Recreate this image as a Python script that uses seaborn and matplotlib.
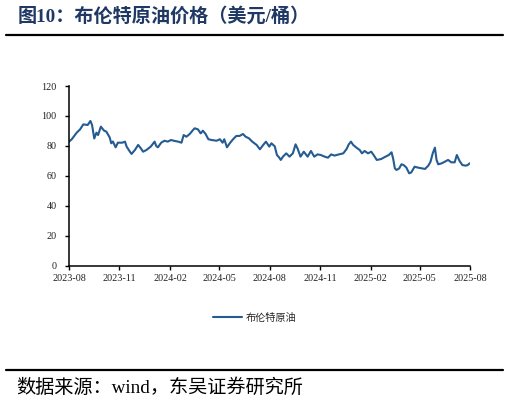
import pandas as pd
import seaborn as sns
import matplotlib.pyplot as plt
import matplotlib.dates as mdates

sns.set_style("ticks")
plt.rcParams['font.family'] = ['Liberation Serif', 'Noto Sans CJK SC', 'DejaVu Sans']

# Brent crude, USD/bbl
dates = [
    "2023-08-01", "2023-08-06", "2023-08-15", "2023-08-21", "2023-08-27", "2023-09-04",
    "2023-09-09", "2023-09-12", "2023-09-16", "2023-09-20", "2023-09-23", "2023-09-28",
    "2023-10-04", "2023-10-08", "2023-10-14", "2023-10-17", "2023-10-20", "2023-10-25",
    "2023-10-29", "2023-11-06", "2023-11-11", "2023-11-14", "2023-11-20", "2023-11-23",
    "2023-11-29", "2023-12-05", "2023-12-10", "2023-12-14", "2023-12-20", "2023-12-28",
    "2024-01-04", "2024-01-07", "2024-01-10", "2024-01-16", "2024-01-22", "2024-01-28",
    "2024-02-03", "2024-02-08", "2024-02-16", "2024-02-22", "2024-02-26", "2024-03-02",
    "2024-03-08", "2024-03-13", "2024-03-17", "2024-03-23", "2024-03-28", "2024-04-01",
    "2024-04-06", "2024-04-11", "2024-04-17", "2024-04-26", "2024-05-02", "2024-05-07",
    "2024-05-10", "2024-05-15", "2024-05-20", "2024-05-26", "2024-06-01", "2024-06-07",
    "2024-06-13", "2024-06-18", "2024-06-24", "2024-06-30", "2024-07-08", "2024-07-14",
    "2024-07-20", "2024-07-25", "2024-07-31", "2024-08-04", "2024-08-10", "2024-08-14",
    "2024-08-18", "2024-08-21", "2024-08-25", "2024-08-31", "2024-09-06", "2024-09-12",
    "2024-09-17", "2024-09-21", "2024-09-26", "2024-10-02", "2024-10-09", "2024-10-15",
    "2024-10-21", "2024-10-27", "2024-11-02", "2024-11-09", "2024-11-15", "2024-11-21",
    "2024-11-27", "2024-12-05", "2024-12-13", "2024-12-19", "2024-12-23", "2024-12-27",
    "2024-12-31", "2025-01-06", "2025-01-12", "2025-01-16", "2025-01-21", "2025-01-27",
    "2025-02-02", "2025-02-07", "2025-02-12", "2025-02-20", "2025-02-28", "2025-03-06",
    "2025-03-11", "2025-03-14", "2025-03-17", "2025-03-20", "2025-03-25", "2025-03-29",
    "2025-04-02", "2025-04-07", "2025-04-12", "2025-04-16", "2025-04-22", "2025-04-28",
    "2025-05-05", "2025-05-11", "2025-05-17", "2025-05-21", "2025-05-25", "2025-05-29",
    "2025-06-01", "2025-06-04", "2025-06-10", "2025-06-16", "2025-06-22", "2025-06-28",
    "2025-07-04", "2025-07-08", "2025-07-13", "2025-07-18", "2025-07-24", "2025-07-28",
    "2025-07-31",
]
prices = [
    82.9, 84.5, 88.9, 91.0, 94.4, 94.0,
    96.7, 94.0, 85.0, 88.9, 87.3, 92.9,
    90.2, 89.6, 85.8, 81.8, 83.0, 79.1,
    82.2, 82.2, 82.9, 79.6, 76.2, 74.7,
    77.3, 80.7, 78.4, 76.2, 77.3, 79.6,
    82.9, 80.0, 79.1, 82.2, 83.5, 82.9,
    84.0, 83.5, 82.9, 82.2, 87.3, 86.2,
    88.0, 90.2, 91.8, 91.1, 88.4, 90.2,
    88.0, 84.5, 84.0, 83.5, 84.5, 82.2,
    84.5, 79.1, 81.8, 84.5, 86.7, 86.7,
    88.0, 86.2, 85.1, 82.9, 80.7, 77.8,
    80.7, 82.9, 79.6, 81.8, 79.8, 74.0,
    72.4, 70.7, 72.9, 75.1, 72.9, 75.1,
    81.1, 78.0, 72.9, 76.2, 72.9, 76.7,
    72.9, 74.4, 74.0, 72.9, 72.2, 74.4,
    73.6, 74.4, 75.1, 78.0, 81.1, 82.9,
    80.7, 78.9, 77.3, 75.1, 76.7, 75.1,
    76.2, 73.6, 70.7, 71.3, 72.9, 74.0,
    75.8, 71.3, 65.1, 64.0, 65.1, 67.8,
    67.3, 65.6, 61.8, 62.4, 66.2, 65.6,
    65.1, 64.7, 66.9, 69.5, 75.1, 78.9,
    70.7, 67.8, 68.4, 69.5, 70.7, 69.1,
    69.1, 74.0, 70.0, 67.3, 66.9, 67.3,
    68.4,
]
series_name = "布伦特原油"
title = "图10：布伦特原油价格（美元/桶）"
source = "数据来源：wind，东吴证券研究所"
y_ticks = [0, 20, 40, 60, 80, 100, 120]
x_ticks = ["2023-08", "2023-11", "2024-02", "2024-05", "2024-08",
           "2024-11", "2025-02", "2025-05", "2025-08"]

df = pd.DataFrame({"date": pd.to_datetime(dates), "value": prices, "series": series_name})

fig = plt.figure(figsize=(5.09, 4.03), dpi=100)
ax = fig.add_axes([0.1356, 0.34, 0.7878, 0.4466])
sns.lineplot(data=df, x="date", y="value", hue="series", palette=["#235b92"],
             linewidth=1.5, ax=ax)

ax.set_xlim(pd.Timestamp("2023-08-01"), pd.Timestamp("2025-08-01"))
ax.set_ylim(0, 120)
ax.set_yticks(y_ticks)
ax.set_xticks([pd.Timestamp(t + "-01") for t in x_ticks])
ax.xaxis.set_major_formatter(mdates.DateFormatter("%Y-%m"))
ax.set_xlabel("")
ax.set_ylabel("")
sns.despine(ax=ax)
for s in ["left", "bottom"]:
    ax.spines[s].set_linewidth(1.1)
    ax.spines[s].set_color("black")
ax.tick_params(axis="both", direction="out", length=3, width=1, color="black",
               labelsize=7.3, labelcolor="#222222")
ax.tick_params(axis="y", pad=6)
ax.tick_params(axis="x", pad=3)

leg = ax.legend(loc="center", bbox_to_anchor=(0.5, 1 - 318 / 403),
                bbox_transform=fig.transFigure, frameon=False, handlelength=2.9,
                handletextpad=0.3, prop={"family": ["Noto Sans CJK SC"], "size": 7.3})

fig.text(18 / 509, 1 - 16 / 403, title, fontsize=13.8, fontweight="bold",
         color="#1f3864", va="center", ha="left",
         family=["Liberation Serif", "Noto Sans CJK SC"])
fig.add_artist(plt.Line2D([6 / 509, 503 / 509], [1 - 34.5 / 403] * 2, color="black",
                          linewidth=1.6, transform=fig.transFigure))
fig.add_artist(plt.Line2D([6 / 509, 503 / 509], [1 - 370 / 403] * 2, color="black",
                          linewidth=1.6, transform=fig.transFigure))
fig.text(16 / 509, 1 - 388 / 403, source, fontsize=13.8, color="black",
         va="center", ha="left", family=["Liberation Serif", "Noto Sans CJK SC"])

plt.savefig("out.png", dpi=100)
